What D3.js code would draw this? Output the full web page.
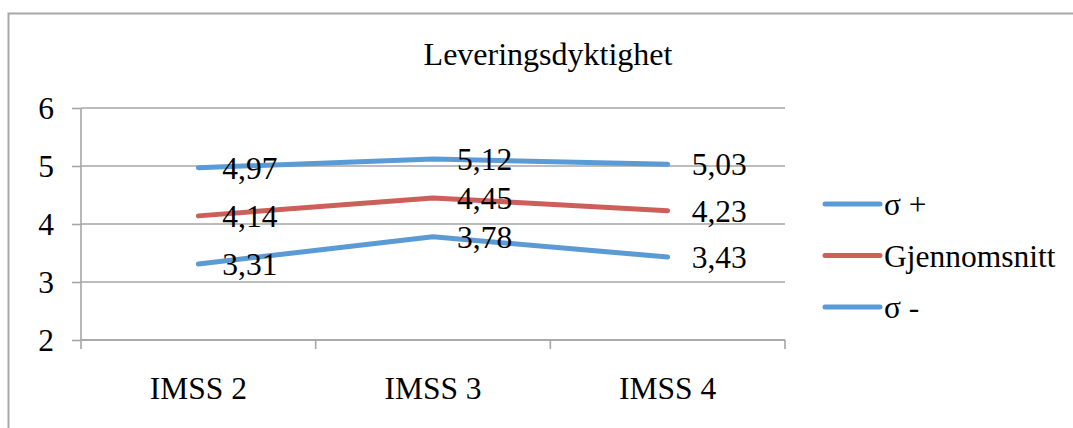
<!DOCTYPE html>
<html>
<head>
<meta charset="utf-8">
<script src="https://cdn.jsdelivr.net/npm/d3@7"></script>
<style>
  html, body { margin: 0; padding: 0; background: #fff; }
  svg { display: block; }
  svg text { font-family: "Liberation Serif", "Times New Roman", serif; }
</style>
</head>
<body>
<svg id="chart" width="1073" height="428"></svg>
<script>
// Chart data
const title = "Leveringsdyktighet";
const categories = ["IMSS 2", "IMSS 3", "IMSS 4"];
const seriesNames = ["σ +", "Gjennomsnitt", "σ -"];
const sigmaPlus = [4.97, 5.12, 5.03];
const average = [4.14, 4.45, 4.23];
const sigmaMinus = [3.31, 3.78, 3.43];
const yTicks = [2, 3, 4, 5, 6];

const blue = "#5b9bd5";
const red = "#cd5f5a";
const gridColor = "#a6a6a6";
const serif = "Liberation Serif, Times New Roman, serif";

const series = [
  { name: seriesNames[0], values: sigmaPlus, color: blue },
  { name: seriesNames[1], values: average, color: red },
  { name: seriesNames[2], values: sigmaMinus, color: blue }
];

const svg = d3.select("#chart");
const fontSize = 31.5;

// Outer chart frame (continues past the right and bottom edges)
svg.append("rect")
  .attr("x", 8.5).attr("y", 13.5)
  .attr("width", 1200).attr("height", 600)
  .attr("fill", "none").attr("stroke", "#a8a8a8").attr("stroke-width", 2);

// Plot area
const plot = { left: 81, right: 785, top: 108, bottom: 340 };

const x = d3.scaleBand().domain(categories).range([plot.left, plot.right]);
const y = d3.scaleLinear().domain([2, 6]).range([plot.bottom, plot.top]);

// Title
svg.append("text")
  .attr("x", 548).attr("y", 65)
  .attr("text-anchor", "middle")
  .attr("font-family", serif)
  .attr("font-size", 32)
  .attr("fill", "#000")
  .text(title);

// Horizontal gridlines
svg.append("g").selectAll("line").data(yTicks).join("line")
  .attr("x1", plot.left).attr("x2", plot.right)
  .attr("y1", d => y(d)).attr("y2", d => y(d))
  .attr("stroke", gridColor).attr("stroke-width", 1.6);

// Y axis
const yAxis = d3.axisLeft(y).tickValues(yTicks).tickSize(9).tickPadding(18)
  .tickFormat(d3.format("d"));
const gy = svg.append("g").attr("transform", `translate(${plot.left},0)`).call(yAxis)
  .attr("font-family", serif);
gy.select(".domain").attr("stroke", gridColor).attr("stroke-width", 1.6)
  .attr("d", `M0,${plot.top}V${plot.bottom}`);
gy.selectAll(".tick line").attr("stroke", gridColor).attr("stroke-width", 1.6);
gy.selectAll(".tick text")
  .attr("font-family", serif)
  .attr("font-size", fontSize).attr("fill", "#000");

// X axis: tick marks on category boundaries, labels centred in each band
const boundaries = categories.map(c => x(c)).concat([plot.right]);
const gx = svg.append("g");
gx.append("line")
  .attr("x1", plot.left).attr("x2", plot.right)
  .attr("y1", plot.bottom).attr("y2", plot.bottom)
  .attr("stroke", gridColor).attr("stroke-width", 1.6);
gx.selectAll("line.tk").data(boundaries).join("line")
  .attr("class", "tk")
  .attr("x1", d => d).attr("x2", d => d)
  .attr("y1", plot.bottom).attr("y2", plot.bottom + 9)
  .attr("stroke", gridColor).attr("stroke-width", 1.6);
gx.selectAll("text").data(categories).join("text")
  .attr("x", d => x(d) + x.bandwidth() / 2)
  .attr("y", 399)
  .attr("text-anchor", "middle")
  .attr("font-family", serif)
  .attr("font-size", fontSize)
  .attr("fill", "#000")
  .text(d => d);

// Series lines
const line = d3.line()
  .x((d, i) => x(categories[i]) + x.bandwidth() / 2)
  .y(d => y(d));

svg.append("g").selectAll("path").data(series).join("path")
  .attr("d", s => line(s.values))
  .attr("fill", "none")
  .attr("stroke", s => s.color)
  .attr("stroke-width", 5)
  .attr("stroke-linecap", "round")
  .attr("stroke-linejoin", "round");

// Data labels, to the right of each point
const fmt = v => d3.format(".2f")(v).replace(".", ",");
const labels = svg.append("g");
series.forEach(s => {
  labels.selectAll(null).data(s.values).join("text")
    .attr("x", (d, i) => x(categories[i]) + x.bandwidth() / 2 + 24)
    .attr("y", d => y(d) + 11)
    .attr("font-family", serif)
    .attr("font-size", fontSize)
    .attr("fill", "#000")
    .text(d => fmt(d));
});

// Legend
const legend = svg.append("g").attr("transform", "translate(825,204)");
const item = legend.selectAll("g").data(series).join("g")
  .attr("transform", (d, i) => `translate(0,${i * 51.5})`);
item.append("line")
  .attr("x1", 0).attr("x2", 55).attr("y1", 0).attr("y2", 0)
  .attr("stroke", d => d.color).attr("stroke-width", 5)
  .attr("stroke-linecap", "round");
item.append("text")
  .attr("x", 59).attr("y", 11)
  .attr("font-family", serif)
  .attr("font-size", fontSize)
  .attr("fill", "#000")
  .text(d => d.name);
</script>
</body>
</html>
